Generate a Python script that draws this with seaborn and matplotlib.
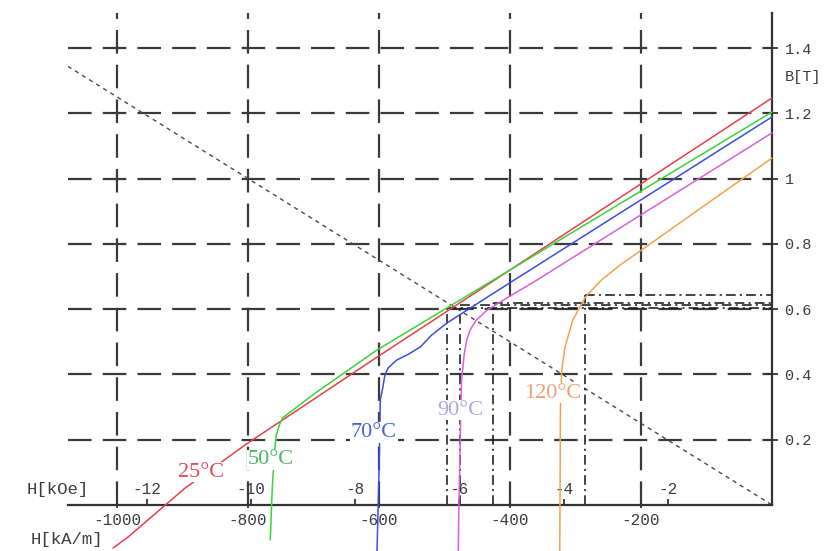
import matplotlib
matplotlib.use("Agg")
import matplotlib.pyplot as plt
import numpy as np
import pandas as pd
import seaborn as sns

# ---------------- data (H in kA/m, B in T) ----------------
TEMPS = ["25°C", "50°C", "70°C", "90°C", "120°C"]

H_25 = [0, -200, -400, -603, -800, -896, -983, -1006]
B_25 = [1.247, 0.984, 0.720, 0.453, 0.190, 0.052, -0.098, -0.132]

H_50 = [0, -200, -400, -603, -700, -747, -751, -757, -760, -763, -766]
B_50 = [1.204, 0.962, 0.720, 0.475, 0.339, 0.267, 0.251, 0.214, 0.150, 0.050, -0.107]

H_70 = [0, -200, -400, -496, -520, -537, -555, -573, -586, -591, -594, -598, -600, -603]
B_70 = [1.189, 0.935, 0.681, 0.558, 0.520, 0.484, 0.462, 0.444, 0.420, 0.398, 0.362, 0.322, 0.100, -0.141]

H_90 = [0, -200, -359, -400, -435, -452, -461, -466, -470, -474, -476, -478, -479]
B_90 = [1.140, 0.889, 0.689, 0.640, 0.597, 0.565, 0.536, 0.506, 0.460, 0.380, 0.200, 0.000, -0.141]

H_120 = [0, -100, -200, -232, -260, -285, -304, -316, -321, -323, -324]
B_120 = [1.063, 0.922, 0.780, 0.735, 0.690, 0.637, 0.567, 0.484, 0.414, 0.300, -0.141]

LOAD_H = [-1075, 0]
LOAD_B = [1.344, 0.0]

OP_H = [-496, -476, -426, -285]
OP_B = [0.604, 0.612, 0.620, 0.643]

KAM_TICKS = [-1000, -800, -600, -400, -200]
KOE_TICKS = [-12, -10, -8, -6, -4, -2]
B_TICKS = [0.2, 0.4, 0.6, 0.8, 1.0, 1.2, 1.4]
B_TICK_LABELS = ["0.2", "0.4", "0.6", "0.8", "1", "1.2", "1.4"]

LABEL_H = [-872, -765, -608, -476, -334]
LABEL_B = [0.101, 0.138, 0.221, 0.291, 0.343]

LINE_COLORS = ["#e8404a", "#3ad43a", "#3a4ee0", "#de5ee0", "#f2a250"]
LABEL_COLORS = ["#e04a5a", "#4cb868", "#4a62d8", "#b0a6e2", "#f2a070"]

KAM_PER_KOE = 79.5775

# ---------------- style ----------------
sns.set_theme(style="white")
plt.rcParams["font.family"] = ["Liberation Mono", "DejaVu Sans Mono", "DejaVu Sans"]
plt.rcParams["axes.unicode_minus"] = False
plt.rcParams["lines.scale_dashes"] = False

INK = "#333333"
TXT = "#3c3c3c"

fig = plt.figure(figsize=(8.34, 5.51), dpi=100)
ax = fig.add_axes([68 / 834, 46 / 551, 704 / 834, 492 / 551])

# curves
frames = []
for name, h, b in zip(TEMPS, [H_25, H_50, H_70, H_90, H_120], [B_25, B_50, B_70, B_90, B_120]):
    frames.append(pd.DataFrame({"H": h, "B": b, "T": name}))
df = pd.concat(frames, ignore_index=True)
sns.lineplot(data=df, x="H", y="B", hue="T", palette=dict(zip(TEMPS, LINE_COLORS)),
             sort=False, estimator=None, lw=1.1, legend=False, ax=ax,
             clip_on=False, zorder=3)

# load line
sns.lineplot(x=LOAD_H, y=LOAD_B, color="#4a4a4a", lw=1.0, linestyle=(0, (3, 3)),
             sort=False, estimator=None, ax=ax, zorder=2)

# operating point construction lines
dashdot = (0, (7, 3, 1.5, 3))
ax.vlines(OP_H, 0, OP_B, colors="#111111", linewidth=1.1, linestyles=[dashdot], zorder=2)
ax.hlines(OP_B, OP_H, 0, colors="#111111", linewidth=1.1, linestyles=[dashdot], zorder=2)

# curve labels
for name, h, b, c in zip(TEMPS, LABEL_H, LABEL_B, LABEL_COLORS):
    ax.text(h, b, name, color=c, fontsize=16, ha="center", va="center",
            family=["Liberation Serif", "DejaVu Serif"], zorder=6,
            bbox=dict(fc="white", ec="none", pad=0.6))

# limits
ax.set_xlim(-1074.8, 0)
ax.set_ylim(0, 492 / 326.4)

# grid
ax.set_xticks(KAM_TICKS)
ax.set_xticklabels([str(t) for t in KAM_TICKS])
ax.set_yticks(B_TICKS)
ax.set_yticklabels(B_TICK_LABELS)
ax.grid(True, color="#3a3a3a", lw=1.6, linestyle=(0, (17, 8)))
ax.set_axisbelow(True)

# spines
for s in ["left", "top"]:
    ax.spines[s].set_visible(False)
for s in ["right", "bottom"]:
    ax.spines[s].set_visible(True)
    ax.spines[s].set_color(INK)
    ax.spines[s].set_linewidth(1.6)

ax.yaxis.tick_right()
ax.tick_params(axis="y", which="major", direction="inout", length=8, width=1.3,
               color=INK, pad=5, labelsize=11, labelcolor=TXT, right=True, left=False)
ax.tick_params(axis="x", which="major", direction="inout", length=5, width=1.3,
               color=INK, pad=3, labelsize=11.5, labelcolor=TXT, bottom=True, top=False)

# kOe scale on the upper side of the H axis
sec = ax.secondary_xaxis(0, functions=(lambda x: x / KAM_PER_KOE, lambda x: x * KAM_PER_KOE))
sec.set_xticks(KOE_TICKS)
sec.set_xticklabels([str(t) for t in KOE_TICKS])
sec.xaxis.set_ticks_position("top")
sec.tick_params(axis="x", direction="out", length=4, width=1.3, color=INK,
                top=True, bottom=False, labeltop=True, labelbottom=False,
                pad=2, labelsize=11.5, labelcolor=TXT)
for s in sec.spines.values():
    s.set_visible(False)

# axis labels
ax.set_xlabel("H[kA/m]", fontsize=12.5, color=TXT, va="center", ha="center")
ax.xaxis.set_label_coords(-0.0014, -0.0711)
ax.yaxis.set_label_position("right")
ax.set_ylabel("B[T]", fontsize=11, color=TXT, rotation=0, va="center", ha="left")
ax.yaxis.set_label_coords((785 - 68) / 704, (505 - 77) / 492)
ax.text(-0.0142, 0.0305, "H[kOe]", transform=ax.transAxes, fontsize=12.5,
        color=TXT, ha="center", va="center")

fig.savefig("out.png", dpi=100, facecolor="white")
